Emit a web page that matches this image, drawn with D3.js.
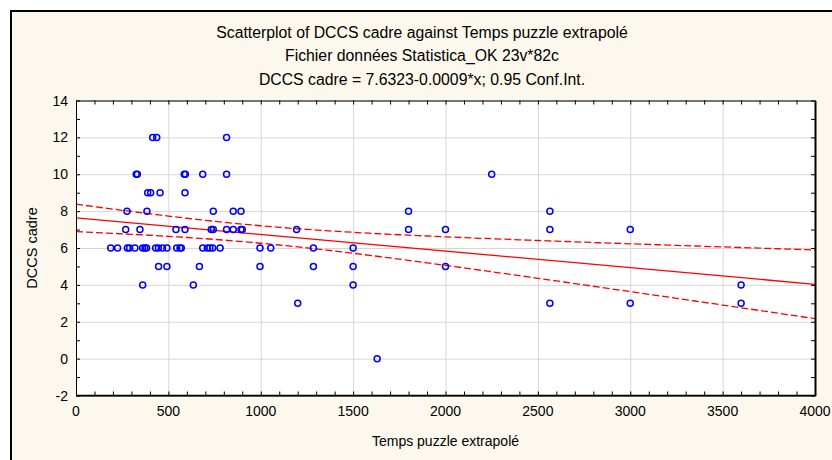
<!DOCTYPE html>
<html>
<head>
<meta charset="utf-8">
<script src="https://cdn.jsdelivr.net/npm/d3@7"></script>
<style>
  body { margin: 0; background: #fff; }
  text { font-family: "Liberation Sans", Arial, sans-serif; fill: #000; }
</style>
</head>
<body>
<svg id="chart" width="832" height="460"></svg>
<script>
// values
const tempsPuzzle = [
  415, 437, 815,
  326, 332, 586, 592, 686, 815, 2250,
  388, 404, 455, 590,
  276, 384, 743, 851, 893, 1800, 2565,
  269, 346, 541, 590, 732, 743, 815, 851, 893, 900, 1194, 1800, 2000, 2565, 3000,
  188, 225, 278, 290, 319, 361, 373, 382, 431, 446, 468, 492, 545, 563, 570, 686, 711, 725, 740, 780, 996, 1054, 1285, 1500,
  447, 492, 668, 996, 1285, 1500, 2000,
  361, 635, 1500, 3600,
  1200, 2565, 3000, 3600,
  1630
];
const dccsCadre = [
  12, 12, 12,
  10, 10, 10, 10, 10, 10, 10,
  9, 9, 9, 9,
  8, 8, 8, 8, 8, 8, 8,
  7, 7, 7, 7, 7, 7, 7, 7, 7, 7, 7, 7, 7, 7, 7,
  6, 6, 6, 6, 6, 6, 6, 6, 6, 6, 6, 6, 6, 6, 6, 6, 6, 6, 6, 6, 6, 6, 6, 6,
  5, 5, 5, 5, 5, 5, 5,
  4, 4, 4, 4,
  3, 3, 3, 3,
  0
];
const xTicks = [0, 500, 1000, 1500, 2000, 2500, 3000, 3500, 4000];
const yTicks = [-2, 0, 2, 4, 6, 8, 10, 12, 14];
const titleLines = [
  "Scatterplot of DCCS cadre against Temps puzzle extrapolé",
  "Fichier données Statistica_OK 23v*82c",
  "DCCS cadre = 7.6323-0.0009*x; 0.95 Conf.Int."
];
const intercept = 7.6323, slope = -0.0009;
const tCrit = 1.99;

const svg = d3.select("#chart");
const mLeft = 76, mRight = 815, mTop = 100.5, mBottom = 395.5;

// outer frame
svg.append("rect").attr("x", 11).attr("y", 11).attr("width", 840).attr("height", 470)
  .attr("fill", "#fdf8ed").attr("stroke", "#000").attr("stroke-width", 2);

const x = d3.scaleLinear().domain([0, 4000]).range([mLeft, mRight]);
const y = d3.scaleLinear().domain([-2, 14]).range([mBottom, mTop]);

svg.append("rect").attr("x", mLeft).attr("y", mTop)
  .attr("width", mRight - mLeft).attr("height", mBottom - mTop).attr("fill", "#fff");

// grid
svg.append("g").attr("transform", `translate(0,${mBottom})`)
  .call(d3.axisBottom(x).tickValues(xTicks).tickSize(-(mBottom - mTop)).tickFormat(""))
  .call(g => g.select(".domain").remove())
  .call(g => g.selectAll("line").attr("stroke", "#d6d6d6"));
svg.append("g").attr("transform", `translate(${mLeft},0)`)
  .call(d3.axisLeft(y).tickValues(yTicks).tickSize(-(mRight - mLeft)).tickFormat(""))
  .call(g => g.select(".domain").remove())
  .call(g => g.selectAll("line").attr("stroke", "#d6d6d6"));

// confidence band from the data
const n = tempsPuzzle.length;
const xMean = d3.mean(tempsPuzzle);
const sxx = d3.sum(tempsPuzzle, v => (v - xMean) ** 2);
const sse = d3.sum(tempsPuzzle, (v, i) => (dccsCadre[i] - (intercept + slope * v)) ** 2);
const s = Math.sqrt(sse / (n - 2));
const half = v => tCrit * s * Math.sqrt(1 / n + (v - xMean) ** 2 / sxx);
const xs = d3.range(0, 4001, 50);

const line = d3.line().x(d => x(d[0])).y(d => y(d[1]));
const plot = svg.append("g");
plot.append("path").datum(xs.map(v => [v, intercept + slope * v + half(v)]))
  .attr("d", line).attr("fill", "none").attr("stroke", "#ff0000")
  .attr("stroke-width", 1.3).attr("stroke-dasharray", "7,3");
plot.append("path").datum(xs.map(v => [v, intercept + slope * v - half(v)]))
  .attr("d", line).attr("fill", "none").attr("stroke", "#ff0000")
  .attr("stroke-width", 1.3).attr("stroke-dasharray", "7,3");
plot.append("path").datum([[0, intercept], [4000, intercept + slope * 4000]])
  .attr("d", line).attr("fill", "none").attr("stroke", "#ff0000").attr("stroke-width", 1.3);

// points
plot.selectAll("circle").data(tempsPuzzle).join("circle")
  .attr("cx", d => x(d))
  .attr("cy", (d, i) => y(dccsCadre[i]))
  .attr("r", 3)
  .attr("fill", "none").attr("stroke", "#0000ff").attr("stroke-width", 1.5);

// axes: frame, inward ticks
const minorX = d3.range(0, 4001, 100);
const minorY = d3.range(-2, 15, 1);
const axisStyle = g => {
  g.select(".domain").attr("stroke", "#000");
  g.selectAll(".tick line").attr("stroke", "#000");
};
svg.append("g").attr("transform", `translate(0,${mBottom})`)
  .call(d3.axisBottom(x).tickValues(minorX).tickSize(-4).tickSizeOuter(0).tickFormat("")).call(axisStyle);
svg.append("g").attr("transform", `translate(0,${mTop})`)
  .call(d3.axisTop(x).tickValues(minorX).tickSize(-4).tickSizeOuter(0).tickFormat("")).call(axisStyle);
svg.append("g").attr("transform", `translate(${mLeft},0)`)
  .call(d3.axisLeft(y).tickValues(minorY).tickSize(-4).tickSizeOuter(0).tickFormat("")).call(axisStyle);
svg.append("g").attr("transform", `translate(${mRight},0)`)
  .call(d3.axisRight(y).tickValues(minorY).tickSize(-4).tickSizeOuter(0).tickFormat("")).call(axisStyle)
  .call(g => g.select(".domain").attr("stroke-width", 2));
svg.append("line").attr("x1", mLeft).attr("x2", mRight + 1).attr("y1", mBottom).attr("y2", mBottom)
  .attr("stroke", "#000").attr("stroke-width", 1.5);

// tick labels
svg.append("g").selectAll("text").data(xTicks).join("text")
  .attr("x", d => x(d)).attr("y", mBottom + 20)
  .attr("text-anchor", "middle").attr("font-size", 14).text(d => d);
svg.append("g").selectAll("text").data(yTicks).join("text")
  .attr("x", mLeft - 8).attr("y", d => y(d) + 5)
  .attr("text-anchor", "end").attr("font-size", 14).text(d => d);

// titles
svg.append("g").selectAll("text").data(titleLines).join("text")
  .attr("x", 422).attr("y", (d, i) => 37.5 + i * 23.5)
  .attr("text-anchor", "middle").attr("font-size", 15.8).text(d => d);
svg.append("text").attr("x", (mLeft + mRight) / 2).attr("y", 446)
  .attr("text-anchor", "middle").attr("font-size", 14).text("Temps puzzle extrapolé");
svg.append("text").attr("transform", `translate(37,${(mTop + mBottom) / 2}) rotate(-90)`)
  .attr("text-anchor", "middle").attr("font-size", 14.5).text("DCCS cadre");
</script>
</body>
</html>
